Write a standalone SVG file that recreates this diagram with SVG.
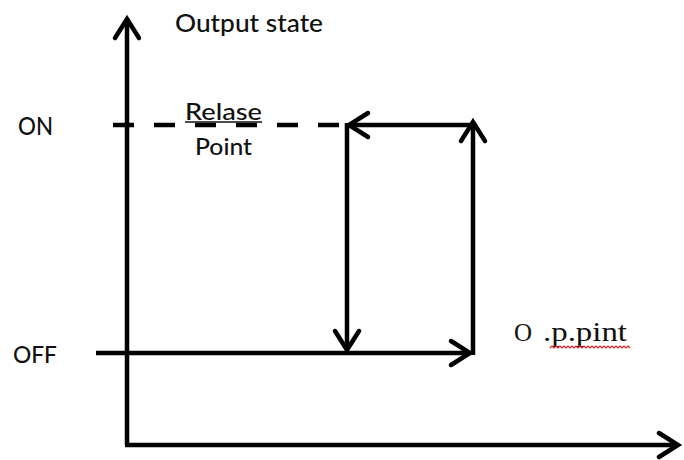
<svg xmlns="http://www.w3.org/2000/svg" width="684" height="460" viewBox="0 0 684 460">
<style>
.ln{stroke:#000;stroke-width:4.5;fill:none;stroke-linecap:butt}
.lbl{font-family:Lato,"Open Sans","Liberation Sans",sans-serif;fill:#111}
.ser{font-family:"Liberation Serif","Times New Roman",serif;fill:#111}
</style>
<defs>
<marker id="chev" markerUnits="userSpaceOnUse" markerWidth="40" markerHeight="40" viewBox="-30 -20 40 40" refX="0" refY="0" orient="auto" overflow="visible">
<path d="M-19,-12 L0,0 L-19,12" fill="none" stroke="#000" stroke-width="4.5" stroke-linecap="round" stroke-linejoin="miter"/>
</marker>
</defs>
<rect width="684" height="460" fill="#fff"/>
<g id="connectors">
<path id="y-axis" class="ln" d="M127,445 L127,19" marker-end="url(#chev)"/>
<path id="x-axis" class="ln" d="M125,445 L678,445" marker-end="url(#chev)"/>
<path id="on-dashed" class="ln" d="M113,125 L345,125" stroke-dasharray="21 20"/>
<path id="on-line" class="ln" d="M473,125 L349,125" marker-end="url(#chev)"/>
<path id="release-drop" class="ln" d="M347,123 L347,350" marker-end="url(#chev)"/>
<path id="off-line" class="ln" d="M96,353 L470,353" marker-end="url(#chev)"/>
<path id="operate-rise" class="ln" d="M473,355 L473,122" marker-end="url(#chev)"/>
</g>
<g id="label-output-state"><text class="lbl" x="175" y="32" font-size="25" font-weight="500" textLength="148" lengthAdjust="spacingAndGlyphs">Output state</text></g>
<g id="label-on"><text class="lbl" x="18" y="135" font-size="24" font-weight="500" textLength="35" lengthAdjust="spacingAndGlyphs">ON</text></g>
<g id="label-off"><text class="lbl" x="13" y="363" font-size="23" font-weight="500" textLength="44" lengthAdjust="spacingAndGlyphs">OFF</text></g>
<g id="label-release">
<text class="lbl" x="185" y="120" font-size="23" font-weight="500" textLength="77" lengthAdjust="spacingAndGlyphs">Relase</text>
<line x1="185" y1="122" x2="262" y2="122" stroke="#111" stroke-width="1.5"/>
<text class="lbl" x="195" y="155" font-size="23" font-weight="500" textLength="57" lengthAdjust="spacingAndGlyphs">Point</text>
</g>
<g id="label-op-point">
<text class="ser" x="514" y="341" font-size="25">O</text>
<text class="ser" x="543" y="341" font-size="27" textLength="84" lengthAdjust="spacingAndGlyphs">.p.pint</text>
<path d="M550,348 l2,-2 l2,2 l2,-2 l2,2 l2,-2 l2,2 l2,-2 l2,2 l2,-2 l2,2 l2,-2 l2,2 l2,-2 l2,2 l2,-2 l2,2 l2,-2 l2,2 l2,-2 l2,2 l2,-2 l2,2 l2,-2 l2,2 l2,-2 l2,2 l2,-2 l2,2 l2,-2 l2,2 l2,-2 l2,2 l2,-2 l2,2 l2,-2 l2,2 l2,-2 l2,2 l2,-2 l2,2" fill="none" stroke="#e02020" stroke-width="1.2"/>
</g>
</svg>
